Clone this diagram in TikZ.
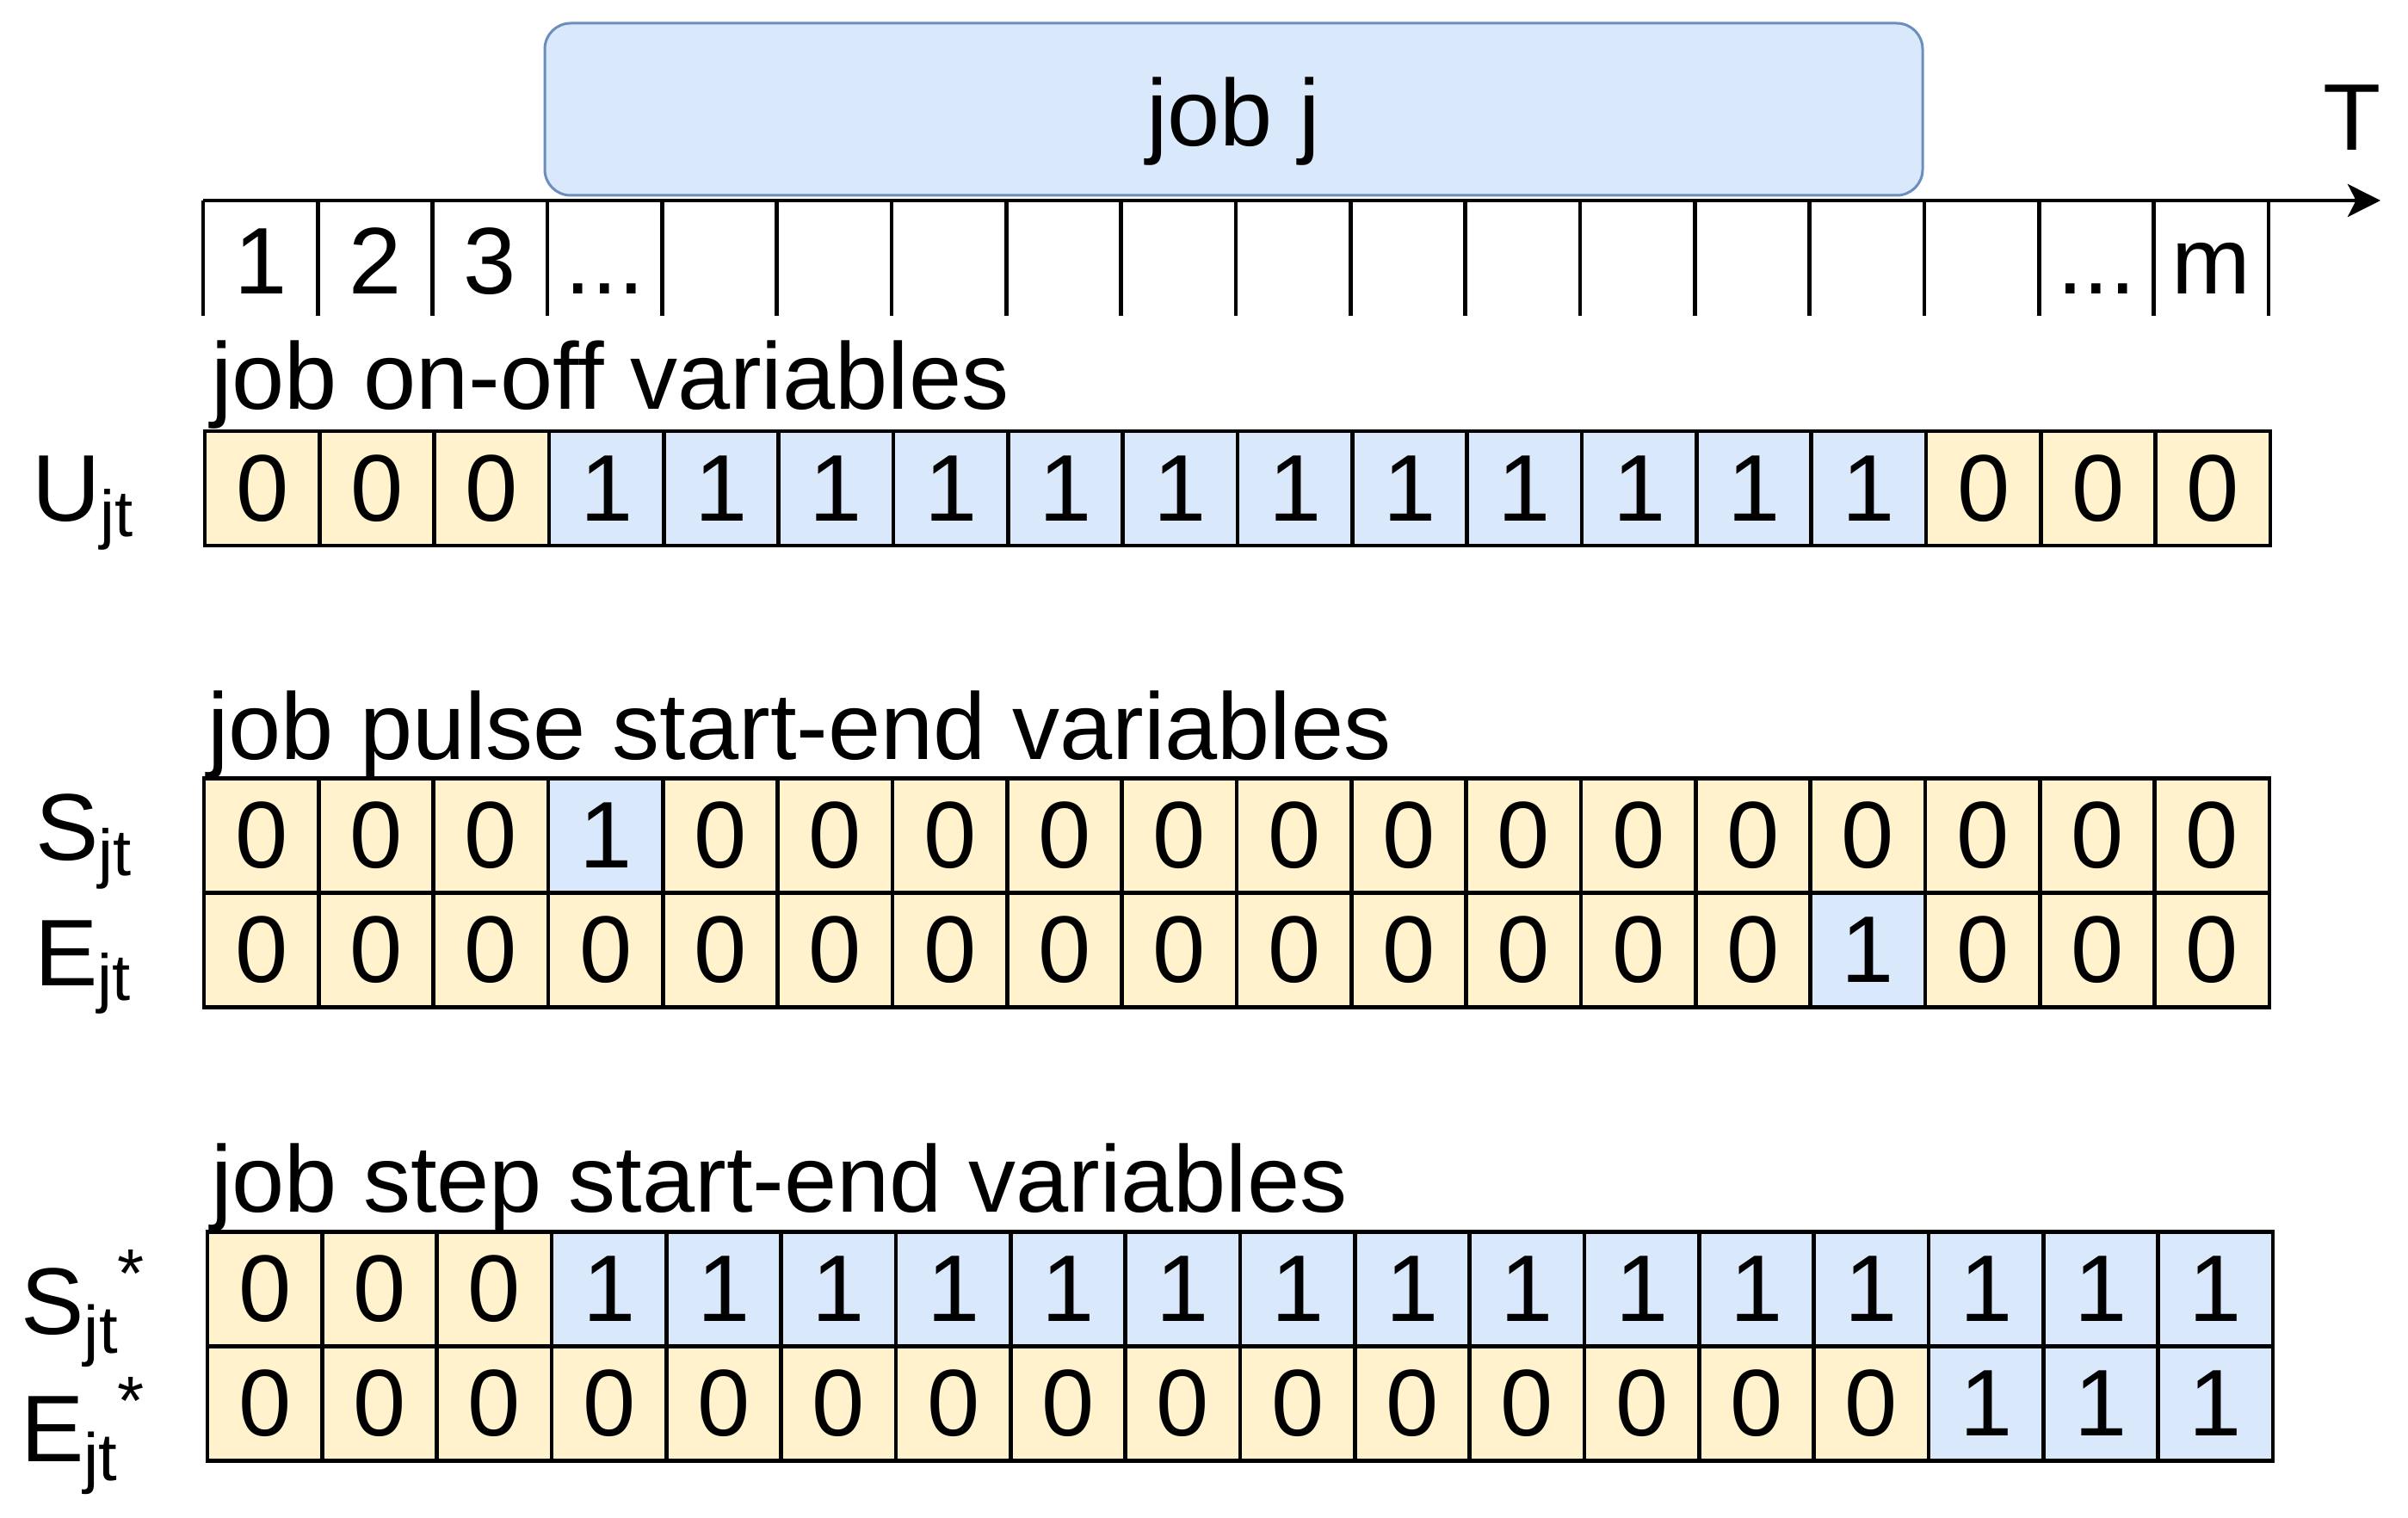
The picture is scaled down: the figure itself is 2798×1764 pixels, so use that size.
\documentclass[tikz,border=0pt]{standalone}
\usepackage{fontspec}
\setmainfont{Liberation Sans}
\usetikzlibrary{arrows.meta}
\definecolor{yfill}{HTML}{FFF2CC}
\definecolor{bfill}{HTML}{DAE8FC}
\definecolor{bstroke}{HTML}{6C8EBF}
\newcommand{\sbj}{\raisebox{-4.5pt}{\fontsize{19}{20}\selectfont jt}}
\newcommand{\sbjs}{\raisebox{-5.5pt}{\fontsize{19.5}{20}\selectfont jt}}
\newcommand{\supstar}{\raisebox{10.75pt}{\fontsize{20}{20}\selectfont *}}
\begin{document}
\begin{tikzpicture}[x=0.25pt,y=-0.25pt,
  every node/.style={inner sep=0pt,outer sep=0pt},
  txt/.style={font=\fontsize{27.5}{33}\selectfont},
  cellbox/.style={txt,draw=black,line width=1.125pt,minimum width=33.33pt,minimum height=33.25pt},
  cell0/.style={cellbox,fill=yfill},
  cell1/.style={cellbox,fill=bfill},
  gridline/.style={line width=1.125pt}]
\useasboundingbox (0,0) rectangle (2798,1764);

% job box
\node[draw=bstroke,fill=bfill,line width=0.75pt,rounded corners=7.5pt,
      minimum width=400.25pt,minimum height=50pt] (jobbox) at (1433.5,127) {};
\node[txt,anchor=base] (joblabel) at (1433,170) {job j};

% time axis
\coordinate (ax0) at (236,233);
\coordinate (ax1) at (2766,233);
\draw[line width=1.2pt,-{Stealth[length=9.5pt,width=9.5pt,inset=2.4pt]}] (ax0) -- (ax1);
\node[txt,anchor=base] (tlabel) at (2733,175) {T};
\foreach \k in {0,...,18} {
  \draw[gridline] ({236+\k*133.33},233) -- ({236+\k*133.33},367);
}
\node[txt,anchor=base] (t1) at (302.7,342) {1};
\node[txt,anchor=base] (t2) at (436,342) {2};
\node[txt,anchor=base] (t3) at (569.3,342) {3};
\node[txt,anchor=base] (t4) at (702.7,342) {...};
\node[txt,anchor=base] (t17) at (2436,342) {...};
\node[txt,anchor=base] (t18) at (2569.3,342) {m};

% titles
\node[txt,anchor=base west] (title1) at (245,476) {job on-off variables};
\node[txt,anchor=base west] (title2) at (241,883) {job pulse start-end variables};
\node[txt,anchor=base west] (title3) at (245,1408) {job step start-end variables};

% row labels
\node[txt,anchor=base west] (ulab) at (37,606) {U\sbj};
\node[txt,anchor=base west] (slab) at (41.5,1000) {S\sbj};
\node[txt,anchor=base west] (elab) at (40,1145) {E\sbj};
\node[txt,anchor=base west] (sslab) at (24.5,1550) {S\sbjs\supstar};
\node[txt,anchor=base west] (eslab) at (24,1698) {E\sbjs\supstar};

% U row
\foreach \v [count=\i from 0] in {0,0,0,1,1,1,1,1,1,1,1,1,1,1,1,0,0,0} {
  \node[cell\v] (u\i) at ({238+(\i+0.5)*133.33},567.5) {\v};
}
% S row
\foreach \v [count=\i from 0] in {0,0,0,1,0,0,0,0,0,0,0,0,0,0,0,0,0,0} {
  \node[cell\v] (s\i) at ({237+(\i+0.5)*133.33},971) {\v};
}
% E row
\foreach \v [count=\i from 0] in {0,0,0,0,0,0,0,0,0,0,0,0,0,0,1,0,0,0} {
  \node[cell\v] (e\i) at ({237+(\i+0.5)*133.33},1104) {\v};
}
% S* row
\foreach \v [count=\i from 0] in {0,0,0,1,1,1,1,1,1,1,1,1,1,1,1,1,1,1} {
  \node[cell\v] (ss\i) at ({241+(\i+0.5)*133.33},1498) {\v};
}
% E* row
\foreach \v [count=\i from 0] in {0,0,0,0,0,0,0,0,0,0,0,0,0,0,0,1,1,1} {
  \node[cell\v] (es\i) at ({241+(\i+0.5)*133.33},1631) {\v};
}
\end{tikzpicture}
\end{document}
